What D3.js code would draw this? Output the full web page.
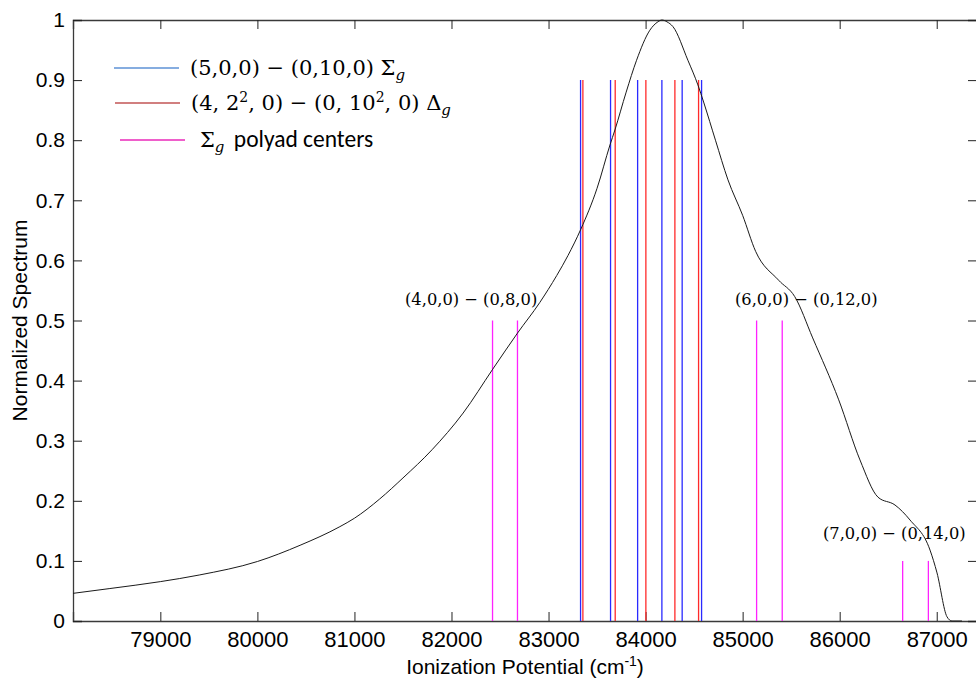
<!DOCTYPE html>
<html>
<head>
<meta charset="utf-8">
<script src="https://cdn.jsdelivr.net/npm/d3@7"></script>
<style>
  html, body { margin: 0; padding: 0; background: #fff; }
  svg { display: block; }
</style>
</head>
<body>
<svg id="chart" width="976" height="679"></svg>
<script>
// ---- data ----
const curveX = [78100, 78480, 79000, 79400, 80000, 80440, 80850, 81000, 81260, 81500, 81800, 82120, 82425, 82680, 82910, 83085, 83200, 83333, 83500, 83633, 83684, 83800, 83907, 84044, 84127, 84168, 84220, 84282, 84436, 84539, 84601, 84720, 84849, 85000, 85134, 85371, 85536, 85722, 85990, 86209, 86395, 86570, 86725, 86931, 87003, 87106, 87157, 87260];
const curveY = [0.046, 0.054, 0.0655, 0.0765, 0.099, 0.126, 0.157, 0.171, 0.203, 0.238, 0.285, 0.346, 0.419, 0.479, 0.530, 0.575, 0.608, 0.652, 0.72, 0.792, 0.817, 0.88, 0.933, 0.983, 0.997, 1.0, 0.997, 0.989, 0.933, 0.892, 0.862, 0.80, 0.734, 0.675, 0.615, 0.567, 0.54, 0.471, 0.368, 0.268, 0.206, 0.193, 0.168, 0.118, 0.08, 0.007, 0.0, 0.0];

const sigmaLines = [83330, 83639, 83918, 84168, 84377, 84577];   // (5,0,0)-(0,10,0) Σg, blue
const sigmaHeight = 0.9;
const deltaLines = [83354, 83687, 84003, 84302, 84546];          // (4,2^2,0)-(0,10^2,0) Δg, red
const deltaHeight = 0.9;
const polyadX = [82423, 82680, 85144, 85408, 86649, 86914];      // Σg polyad centers, magenta
const polyadH = [0.5, 0.5, 0.5, 0.5, 0.1, 0.1];

const xTicks = [79000, 80000, 81000, 82000, 83000, 84000, 85000, 86000, 87000];
const yTicks = [0, 0.1, 0.2, 0.3, 0.4, 0.5, 0.6, 0.7, 0.8, 0.9, 1];
const xDomain = [78100, 87415];
const yDomain = [0, 1];

const annotations = [
  { text: "(4,0,0) − (0,8,0)", x: 81521, y: 0.525 },
  { text: "(6,0,0) − (0,12,0)", x: 84921, y: 0.525 },
  { text: "(7,0,0) − (0,14,0)", x: 85828, y: 0.137 }
];

// ---- layout ----
const svg = d3.select("#chart");
const L = 73, R = 977, T = 20, B = 621;
const x = d3.scaleLinear().domain(xDomain).range([L, R]);
const y = d3.scaleLinear().domain(yDomain).range([B, T]);
const axisColor = "#3a3a3a";
const tickFont = "'Liberation Sans', Arial, sans-serif";
const serif = "'DejaVu Serif', 'Liberation Serif', serif";

svg.append("rect").attr("width", 976).attr("height", 679).attr("fill", "#fff");

// axes
const gx = svg.append("g").attr("transform", `translate(0,${B})`)
  .call(d3.axisBottom(x).tickValues(xTicks).tickSize(-9).tickPadding(10).tickFormat(d3.format("d")));
const gxTop = svg.append("g").attr("transform", `translate(0,${T})`)
  .call(d3.axisTop(x).tickValues(xTicks).tickSize(-9).tickFormat(""));
const gy = svg.append("g").attr("transform", `translate(${L},0)`)
  .call(d3.axisLeft(y).tickValues(yTicks).tickSize(-9).tickPadding(8).tickFormat(d => d === 0 ? "0" : d === 1 ? "1" : d3.format(".1f")(d)));
const gyR = svg.append("g").attr("transform", `translate(${R},0)`)
  .call(d3.axisRight(y).tickValues(yTicks).tickSize(-9).tickFormat(""));

[gx, gxTop, gy, gyR].forEach(g => {
  g.select(".domain").attr("stroke", axisColor).attr("stroke-width", 1.3);
  g.selectAll(".tick line").attr("stroke", "#222").attr("stroke-width", 1);
  g.selectAll(".tick text").attr("fill", "#000").style("font-family", tickFont).style("font-size", "21px");
});
gx.selectAll(".tick text").style("font-size", "22px");

// vertical sticks
const sticks = svg.append("g");
sticks.selectAll("line.sig").data(sigmaLines).enter().append("line")
  .attr("x1", d => x(d)).attr("x2", d => x(d))
  .attr("y1", y(0)).attr("y2", y(sigmaHeight))
  .attr("stroke", "#2a2aff").attr("stroke-width", 1.3);
sticks.selectAll("line.del").data(deltaLines).enter().append("line")
  .attr("x1", d => x(d)).attr("x2", d => x(d))
  .attr("y1", y(0)).attr("y2", y(deltaHeight))
  .attr("stroke", "#ff2a2a").attr("stroke-width", 1.3);
sticks.selectAll("line.pol").data(polyadX).enter().append("line")
  .attr("x1", d => x(d)).attr("x2", d => x(d))
  .attr("y1", y(0)).attr("y2", (d, i) => y(polyadH[i]))
  .attr("stroke", "#ff22ff").attr("stroke-width", 1.3);

// spectrum curve
const pts = curveX.map((v, i) => [v, curveY[i]]);
svg.append("path").datum(pts)
  .attr("fill", "none").attr("stroke", "#1a1a1a").attr("stroke-width", 1)
  .attr("d", d3.line().x(d => x(d[0])).y(d => y(d[1])).curve(d3.curveMonotoneX));

// axis titles
svg.append("text").attr("x", (L + R) / 2).attr("y", 674).attr("text-anchor", "middle")
  .style("font-family", tickFont).style("font-size", "21px")
  .html('Ionization Potential (cm<tspan dy="-8" font-size="14px">-1</tspan><tspan dy="8">)</tspan>');
svg.append("text").attr("transform", `translate(27,${(T + B) / 2}) rotate(-90)`).attr("text-anchor", "middle")
  .style("font-family", tickFont).style("font-size", "21px").text("Normalized Spectrum");

// annotations
svg.append("g").selectAll("text").data(annotations).enter().append("text")
  .attr("x", d => x(d.x)).attr("y", d => y(d.y))
  .style("font-family", serif).style("font-size", "16.3px").attr("fill", "#000")
  .text(d => d.text);

// legend
const leg = svg.append("g").style("font-family", serif).style("font-size", "21px");
const legendItems = [
  { color: "#86ade0", x1: 114, x2: 179, y: 68, tx: 190,
    html: '(5,0,0) − (0,10,0) Σ<tspan dy="5" font-size="15px" font-style="italic">g</tspan>' },
  { color: "#d17f7f", x1: 115, x2: 180, y: 103, tx: 191,
    html: '(4, 2<tspan dy="-8" font-size="14px">2</tspan><tspan dy="8">, 0) − (0, 10</tspan><tspan dy="-8" font-size="14px">2</tspan><tspan dy="8">, 0) Δ</tspan><tspan dy="5" font-size="15px" font-style="italic">g</tspan>' },
  { color: "#ef5fcb", x1: 120, x2: 185, y: 140, tx: 200,
    html: 'Σ<tspan dy="5" font-size="15px" font-style="italic">g</tspan><tspan dx="4" dy="-5" style="font-family:Calibri, Carlito, \'Open Sans\', sans-serif; font-size:23.5px"> polyad centers</tspan>' }
];
legendItems.forEach(it => {
  leg.append("line").attr("x1", it.x1).attr("x2", it.x2).attr("y1", it.y).attr("y2", it.y)
    .attr("stroke", it.color).attr("stroke-width", 2);
  leg.append("text").attr("x", it.tx).attr("y", it.y + 7).attr("fill", "#000").html(it.html);
});
</script>
</body>
</html>
